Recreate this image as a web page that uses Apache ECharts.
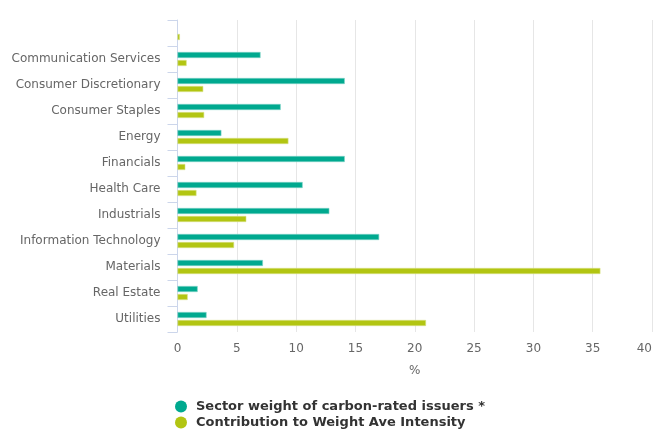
<!DOCTYPE html>
<html>
<head>
<meta charset="utf-8">
<script src="https://cdn.jsdelivr.net/npm/echarts@6/dist/echarts.min.js"></script>
<style>html,body{margin:0;padding:0;background:#fff}#c{width:655px;height:431px}</style>
</head>
<body>
<div id="c"></div>
<script>
const categories = ["", "Communication Services", "Consumer Discretionary", "Consumer Staples", "Energy", "Financials", "Health Care", "Industrials", "Information Technology", "Materials", "Real Estate", "Utilities"];
const sectorWeight = [null, 7.0, 14.1, 8.7, 3.7, 14.1, 10.55, 12.8, 17.0, 7.2, 1.7, 2.45];
const contribution = [0.2, 0.77, 2.17, 2.25, 9.35, 0.66, 1.6, 5.8, 4.77, 35.65, 0.86, 20.95];
const seriesNames = ["Sector weight of carbon-rated issuers *", "Contribution to Weight Ave Intensity"];
const xTicks = [0, 5, 10, 15, 20, 25, 30, 35, 40];

const chart = echarts.init(document.getElementById('c'), null, {renderer: 'canvas'});
chart.setOption({
  animation: false,
  textStyle: {fontFamily: 'DejaVu Sans'},
  grid: {left: 177.5, right: 1, top: 20, bottom: 99, containLabel: false},
  xAxis: {
    type: 'value', min: xTicks[0], max: xTicks[xTicks.length - 1], interval: 5,
    name: '%', nameLocation: 'middle', nameGap: 33,
    nameTextStyle: {color: '#666', fontSize: 12},
    axisLine: {show: false}, axisTick: {show: false},
    axisLabel: {color: '#666', fontSize: 12, margin: 11,
      formatter: v => String(v), alignMaxLabel: 'right'},
    splitLine: {lineStyle: {color: '#e6e6e6'}}
  },
  yAxis: {
    type: 'category', data: categories, inverse: true,
    axisLine: {lineStyle: {color: '#ccd6eb'}},
    axisTick: {show: true, length: 10, lineStyle: {color: '#ccd6eb'}},
    axisLabel: {color: '#666', fontSize: 12, margin: 17},
    splitLine: {show: false}
  },
  legend: {
    orient: 'vertical', left: 175, top: 400, itemGap: 3, padding: 0,
    icon: 'circle', itemWidth: 12, itemHeight: 12,
    itemStyle: {borderWidth: 0},
    textStyle: {color: '#333', fontSize: 13, fontWeight: 'bold', padding: [0,0,0,4]},
    data: seriesNames
  },
  series: [
    {name: seriesNames[0], type: 'bar', data: sectorWeight, barWidth: 6, barGap: '33%',
     itemStyle: {color: '#00a98f', borderColor: '#7fd4c7', borderWidth: 0.6}},
    {name: seriesNames[1], type: 'bar', data: contribution, barWidth: 6,
     itemStyle: {color: '#b2c512', borderColor: '#d8e288', borderWidth: 0.6}}
  ]
});
</script>
</body>
</html>
